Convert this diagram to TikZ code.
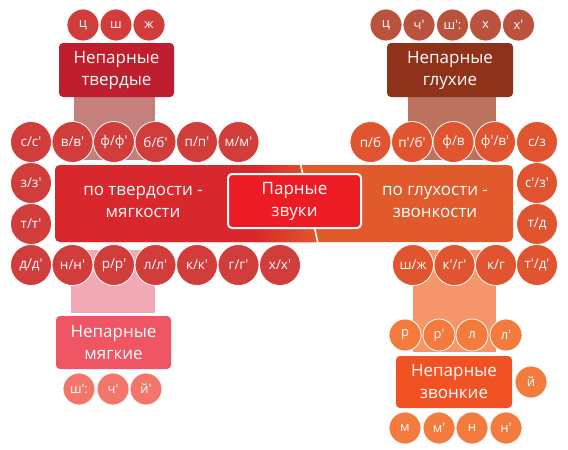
\documentclass[tikz,border=0pt]{standalone}
\usepackage{fontspec}
\setmainfont{Open Sans}
\begin{document}
\begin{tikzpicture}[x=1pt,y=-1pt,
  cbig/.style={circle, draw=white, line width=0.8pt, minimum size=41pt, inner sep=0pt, text=white, font=\fontsize{13.5}{14}\selectfont},
  csmall/.style={circle, draw=white, line width=0.8pt, minimum size=32pt, inner sep=0pt, text=white, font=\fontsize{13}{14}\selectfont},
  cbox/.style={rounded corners=4pt, text=white, align=center, inner sep=0pt, font=\fontsize{17}{22}\selectfont},
  lbl/.style={text=white, align=center, font=\fontsize{17}{22}\selectfont}]
\definecolor{cL}{HTML}{D03D3B}
\definecolor{cR}{HTML}{E0552F}
\definecolor{barL}{HTML}{D8282D}
\definecolor{barR}{HTML}{E05A2B}
\definecolor{mid}{HTML}{ED1C24}
\definecolor{tlBox}{HTML}{BE1E2D}
\definecolor{tlCon}{HTML}{C4807C}
\definecolor{trBox}{HTML}{8E331A}
\definecolor{trCon}{HTML}{BB735F}
\definecolor{trC}{HTML}{B9533E}
\definecolor{blCon}{HTML}{F2A9B3}
\definecolor{blBox}{HTML}{F05564}
\definecolor{blC}{HTML}{F2766A}
\definecolor{brCon}{HTML}{F5956A}
\definecolor{brBox}{HTML}{F15223}
\definecolor{brC}{HTML}{F27B3D}
\useasboundingbox (0,0) rectangle (568,450);
% connector bands
\fill[tlCon] (74,97) rectangle (155,160);
\fill[trCon] (408,97) rectangle (496,160);
\fill[blCon] (71,250) rectangle (155,313);
\fill[brCon] (413,250) rectangle (496,352);
% main bar
\begin{scope}
\clip[rounded corners=5pt] (55,165) rectangle (513,242);
\fill[barR] (55,160) rectangle (520,250);
\fill[barL] (50,160) -- (299,160) -- (319,248) -- (50,248) -- cycle;
\clip (50,160) -- (299,160) -- (319,248) -- (50,248) -- cycle;
\shade[left color=barL, right color=barR] (255,160) rectangle (320,248);
\end{scope}
\draw[white, line width=1.6pt] (299,157) -- (319,248);
% boxes
\node[cbox, fill=tlBox, minimum width=115pt, minimum height=54pt] (tl) at (116.5,70) {Непарные\\твердые};
\node[cbox, fill=trBox, minimum width=126pt, minimum height=54pt] (tr) at (450,70) {Непарные\\глухие};
\node[cbox, fill=blBox, minimum width=115pt, minimum height=53pt] (bl) at (113.5,342.5) {Непарные\\мягкие};
\node[cbox, fill=brBox, minimum width=116pt, minimum height=52pt] (br) at (454,382) {Непарные\\звонкие};
\node[cbox, fill=mid, draw=white, line width=2pt, minimum width=133pt, minimum height=54pt] (mid) at (294.5,201) {Парные\\звуки};
\node[lbl] (lt) at (143,202) {по твердости -\\мягкости};
\node[lbl] (rt) at (435,202) {по глухости -\\звонкости};
% top-left small
\node[csmall, fill=cL] (a1) at (83,25) {ц};
\node[csmall, fill=cL] (a2) at (116,25) {ш};
\node[csmall, fill=cL] (a3) at (149,25) {ж};
% top-right small
\node[csmall, fill=trC] (b1) at (386,25) {ц};
\node[csmall, fill=trC] (b2) at (419,25) {ч′};
\node[csmall, fill=trC] (b3) at (452.5,25) {ш′:};
\node[csmall, fill=trC] (b4) at (485.5,25) {х};
\node[csmall, fill=trC] (b5) at (518.5,25) {х′};
% left big circles
\node[cbig, fill=cL] (l1) at (31,142) {с/с′};
\node[cbig, fill=cL] (l2) at (31,183) {з/з′};
\node[cbig, fill=cL] (l3) at (31,224) {т/т′};
\node[cbig, fill=cL] (l4) at (31,265) {д/д′};
\node[cbig, fill=cL] (t1) at (72.5,142) {в/в′};
\node[cbig, fill=cL] (t2) at (114,142) {ф/ф′};
\node[cbig, fill=cL] (t3) at (155.5,142) {б/б′};
\node[cbig, fill=cL] (t4) at (197,142) {п/п′};
\node[cbig, fill=cL] (t5) at (238.5,142) {м/м′};
\node[cbig, fill=cL] (u1) at (72.5,265) {н/н′};
\node[cbig, fill=cL] (u2) at (114,265) {р/р′};
\node[cbig, fill=cL] (u3) at (155.5,265) {л/л′};
\node[cbig, fill=cL] (u4) at (197,265) {к/к′};
\node[cbig, fill=cL] (u5) at (238.5,265) {г/г′};
\node[cbig, fill=cL] (u6) at (280,265) {х/х′};
% right big circles
\node[cbig, fill=cR] (r1) at (370.5,142) {п/б};
\node[cbig, fill=cR] (r2) at (412,142) {п′/б′};
\node[cbig, fill=cR] (r3) at (453.5,142) {ф/в};
\node[cbig, fill=cR] (r4) at (495,142) {ф′/в′};
\node[cbig, fill=cR] (r5) at (537,142) {с/з};
\node[cbig, fill=cR] (r6) at (537,183) {с′/з′};
\node[cbig, fill=cR] (r7) at (537,224) {т/д};
\node[cbig, fill=cR] (r8) at (537,265) {т′/д′};
\node[cbig, fill=cR] (s1) at (413,265) {ш/ж};
\node[cbig, fill=cR] (s2) at (454.5,265) {к′/г′};
\node[cbig, fill=cR] (s3) at (496,265) {к/г};
% bottom-left small
\node[csmall, fill=blC] (c1) at (79,389) {ш′:};
\node[csmall, fill=blC] (c2) at (113,389) {ч′};
\node[csmall, fill=blC] (c3) at (146,389) {й′};
% bottom-right small
\node[csmall, fill=brC] (d1) at (405,335) {р};
\node[csmall, fill=brC] (d2) at (439,335) {р′};
\node[csmall, fill=brC] (d3) at (472,335) {л};
\node[csmall, fill=brC] (d4) at (506,335) {л′};
\node[csmall, fill=brC] (d5) at (531,382) {й};
\node[csmall, fill=brC] (e1) at (405,428) {м};
\node[csmall, fill=brC] (e2) at (439,428) {м′};
\node[csmall, fill=brC] (e3) at (472,428) {н};
\node[csmall, fill=brC] (e4) at (506,428) {н′};
\end{tikzpicture}
\end{document}
